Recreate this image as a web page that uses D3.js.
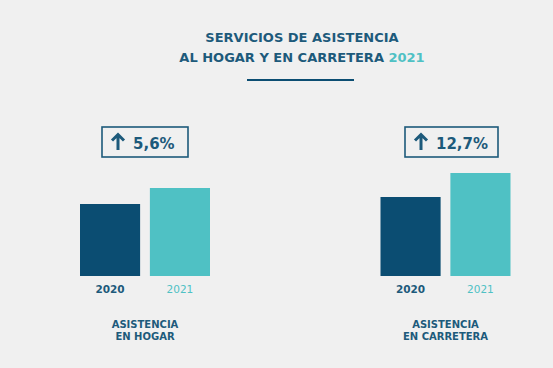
<!DOCTYPE html>
<html><head><meta charset="utf-8">
<script src="https://cdn.jsdelivr.net/npm/d3@7"></script>
<style>body{margin:0;background:#f0f0f0;}svg{display:block;font-family:"DejaVu Sans",sans-serif;}</style>
</head><body>
<script>
const groups = ["ASISTENCIA\nEN HOGAR", "ASISTENCIA\nEN CARRETERA"];
const years = ["2020", "2021"];
const values2020 = [72, 79];
const values2021 = [88, 103];
const changes = ["5,6%", "12,7%"];
const titleLines = ["SERVICIOS DE ASISTENCIA", "AL HOGAR Y EN CARRETERA"];
const titleYear = "2021";

const W = 553, H = 368;
const dark = "#0b4d72", teal = "#4fc1c4", textDark = "#1d5a7b";
const svg = d3.select("body").append("svg").attr("width", W).attr("height", H);
svg.append("rect").attr("width", W).attr("height", H).attr("fill", "#f0f0f0");

// title
const t = svg.append("text").attr("text-anchor", "middle").attr("font-weight", 700)
  .attr("font-size", 13).attr("fill", textDark);
t.append("tspan").attr("x", 302).attr("y", 42).text(titleLines[0]);
t.append("tspan").attr("x", 302).attr("y", 62).text(titleLines[1] + " ");
t.append("tspan").attr("fill", teal).text(titleYear);
svg.append("line").attr("x1", 247).attr("x2", 354).attr("y1", 80).attr("y2", 80)
  .attr("stroke", dark).attr("stroke-width", 2);

// scales
const x0 = d3.scaleOrdinal().domain(groups).range([145, 445.5]);
const x1 = d3.scaleBand().domain(years).range([-65, 65]).paddingInner(0.14);
const y = d3.scaleLinear().domain([0, 103]).range([276, 173]);

groups.forEach((g, i) => {
  const cx = x0(g);
  const gg = svg.append("g").attr("transform", `translate(${cx},0)`);
  const vals = [values2020[i], values2021[i]];
  years.forEach((yr, j) => {
    gg.append("rect").attr("x", x1(yr)).attr("width", x1.bandwidth())
      .attr("y", y(vals[j])).attr("height", y(0) - y(vals[j]))
      .attr("fill", j === 0 ? dark : teal);
    gg.append("text").attr("x", x1(yr) + x1.bandwidth() / 2).attr("y", 293)
      .attr("text-anchor", "middle").attr("font-size", 10.5).attr("font-weight", j === 0 ? 700 : 400)
      .attr("fill", j === 0 ? textDark : teal).text(yr);
  });
  // change box
  const bw = i === 0 ? 86 : 93;
  const bx = i === 0 ? 102 - cx : 405 - cx;
  gg.append("rect").attr("x", bx).attr("y", 127).attr("width", bw).attr("height", 30)
    .attr("fill", "none").attr("stroke", textDark).attr("stroke-width", 1.6);
  const ax = bx + 16;
  gg.append("path").attr("d", `M${ax},134.5 L${ax},150 M${ax-6},140.5 L${ax},134.5 L${ax+6},140.5`)
    .attr("fill", "none").attr("stroke", textDark).attr("stroke-width", 3).attr("stroke-linejoin", "miter");
  gg.append("text").attr("x", bx + 31).attr("y", 148.5).attr("font-size", 15).attr("font-weight", 700)
    .attr("fill", textDark).text(changes[i]);
  // category label
  const lines = g.split("\n");
  lines.forEach((ln, k) => {
    gg.append("text").attr("x", 0).attr("y", 327.5 + k * 12).attr("text-anchor", "middle")
      .attr("font-size", 10).attr("font-weight", 700).attr("fill", textDark).text(ln);
  });
});
</script>
</body></html>
